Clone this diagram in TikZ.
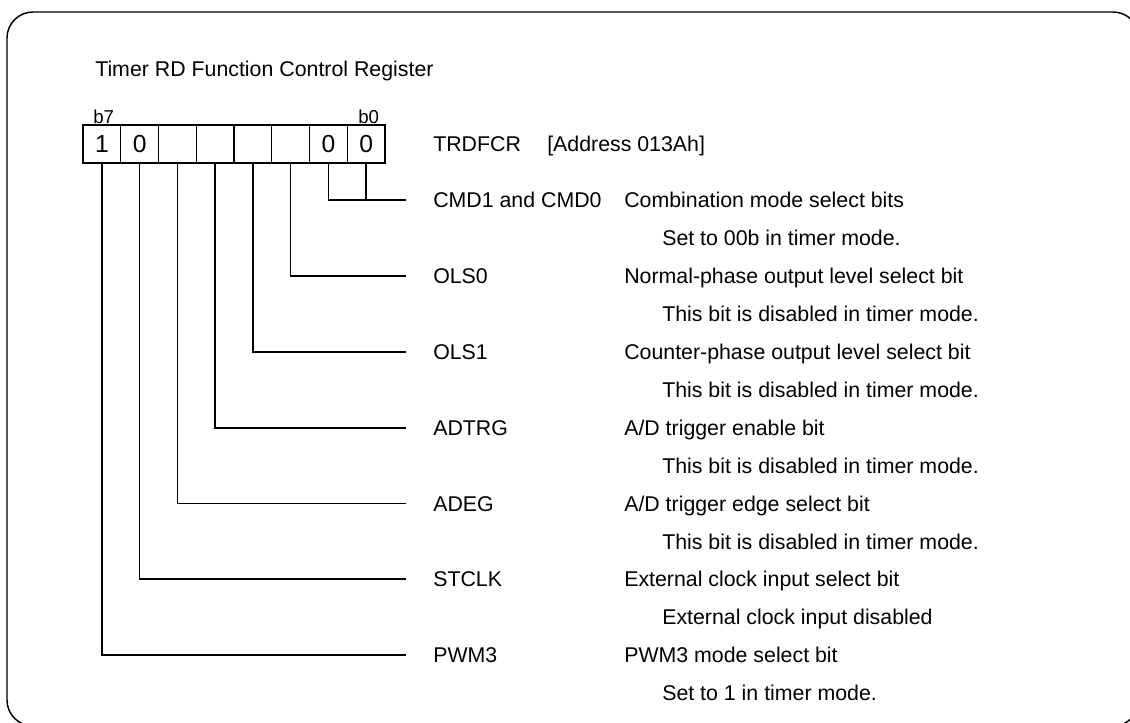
\documentclass[tikz,border=0pt]{standalone}
\usepackage{fontspec}
\setmainfont{Liberation Sans}
\begin{document}
\begin{tikzpicture}[x=0.75pt,y=-0.75pt,
  wire/.style={line width=1.1pt,line cap=rect},
  cell/.style={draw,line width=1.1pt,minimum width=28.3pt,minimum height=28.5pt,inner sep=0pt,font=\fontsize{18.5}{21}\selectfont},
  txt/.style={anchor=base west,inner sep=0pt,font=\fontsize{16}{19}\selectfont},
  small/.style={anchor=base west,inner sep=0pt,font=\fontsize{14}{16}\selectfont}]
\useasboundingbox (0,0) rectangle (1130,722);
\clip (0,0) rectangle (1130,722);
% frame
\draw[line width=1.1pt,rounded corners=19.5pt] (7,12) rectangle (1139,726);
% title
\node[txt] (title) at (95,76) {Timer RD Function Control Register};
\node[small] (b7) at (93,123) {b7};
\node[small] (b0) at (358,123) {b0};
% cells
\foreach \i/\v in {7/1,6/0,5/,4/,3/,2/,1/0,0/0}{
  \node[cell] (c\i) at ({83+37.75*(7-\i)+18.875},144) {\v};
}
\node[txt] (reg) at (433,151.5) {TRDFCR};
\node[txt] (addr) at (547,151.5) {[Address 013Ah]};
% row end coordinates
\coordinate (e0) at (405,200);
\coordinate (e1) at (405,276);
\coordinate (e2) at (405,352);
\coordinate (e3) at (405,428);
\coordinate (e4) at (405,503.5);
\coordinate (e5) at (405,579);
\coordinate (e6) at (405,655);
% connectors
\draw[wire] (c1.south) |- (e0);
\draw[wire] (c0.south) -- (c0.south |- e0);
\draw[wire] (c2.south) |- (e1);
\draw[wire] (c3.south) |- (e2);
\draw[wire] (c4.south) |- (e3);
\draw[wire] (c5.south) |- (e4);
\draw[wire] (c6.south) |- (e5);
\draw[wire] (c7.south) |- (e6);
% labels
\node[txt] (n0) at (433,207.5) {CMD1 and CMD0};
\node[txt] (d0) at (624,207.5) {Combination mode select bits};
\node[txt] (s0) at (662,245.5) {Set to 00b in timer mode.};
\node[txt] (n1) at (433,283.5) {OLS0};
\node[txt] (d1) at (624,283.5) {Normal-phase output level select bit};
\node[txt] (s1) at (662,321.5) {This bit is disabled in timer mode.};
\node[txt] (n2) at (433,359.5) {OLS1};
\node[txt] (d2) at (624,359.5) {Counter-phase output level select bit};
\node[txt] (s2) at (662,397.5) {This bit is disabled in timer mode.};
\node[txt] (n3) at (433,435.5) {ADTRG};
\node[txt] (d3) at (624,435.5) {A/D trigger enable bit};
\node[txt] (s3) at (662,473.5) {This bit is disabled in timer mode.};
\node[txt] (n4) at (433,511) {ADEG};
\node[txt] (d4) at (624,511) {A/D trigger edge select bit};
\node[txt] (s4) at (662,549) {This bit is disabled in timer mode.};
\node[txt] (n5) at (433,586.5) {STCLK};
\node[txt] (d5) at (624,586.5) {External clock input select bit};
\node[txt] (s5) at (662,624.5) {External clock input disabled};
\node[txt] (n6) at (433,662.5) {PWM3};
\node[txt] (d6) at (624,662.5) {PWM3 mode select bit};
\node[txt] (s6) at (662,700.5) {Set to 1 in timer mode.};
\end{tikzpicture}
\end{document}
